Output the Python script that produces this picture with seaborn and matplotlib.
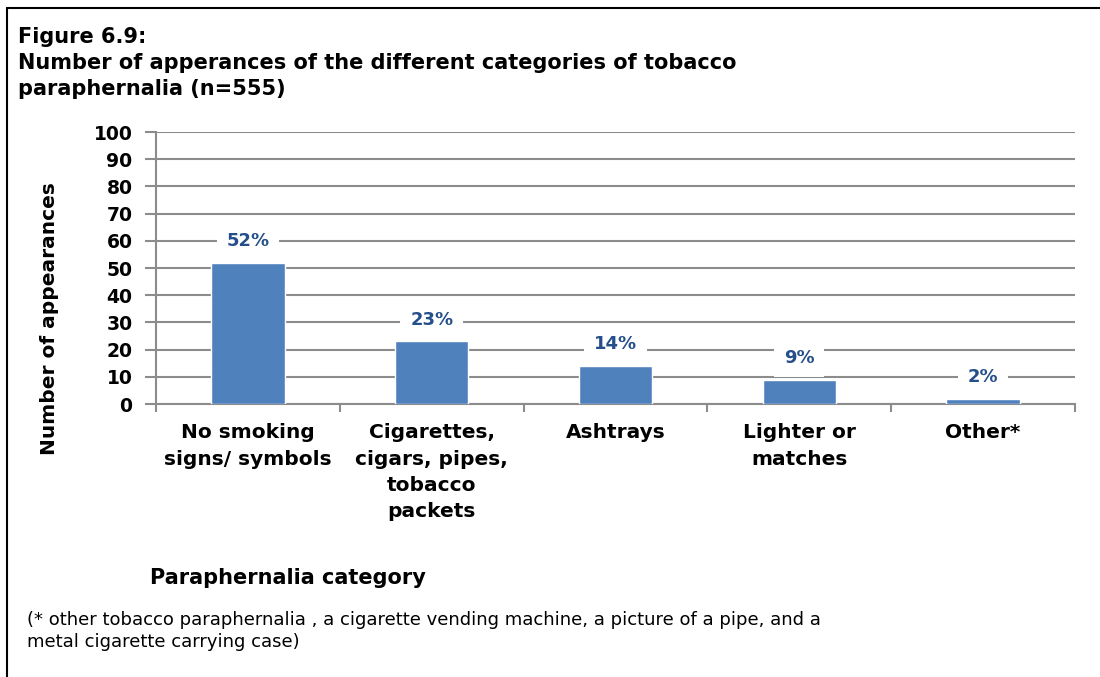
import matplotlib
matplotlib.use("Agg")
import matplotlib.pyplot as plt
import seaborn as sb
import pandas as pd

# data
categories = ["No smoking\nsigns/ symbols", "Cigarettes,\ncigars, pipes,\ntobacco\npackets",
              "Ashtrays", "Lighter or\nmatches", "Other*"]
appearances = [52, 23, 14, 9, 2]
bar_labels = ["52%", "23%", "14%", "9%", "2%"]
y_ticks = list(range(0, 101, 10))

bar_color = "#4F81BD"
label_color = "#254F8A"
grid_color = "#8C8C8C"

sb.set_style("white")
# the original uses a widely tracked Arial; DejaVu Sans gets the widths closer
plt.rcParams["font.family"] = ["DejaVu Sans"]
plt.rcParams["text.color"] = "black"
plt.rcParams["xtick.color"] = "black"
plt.rcParams["ytick.color"] = "black"

df = pd.DataFrame({"category": categories, "count": appearances})

fig = plt.figure(figsize=(11, 6.77), dpi=100)
ax = fig.add_axes([156 / 1100, 1 - 404 / 677, (1075 - 156) / 1100, (404 - 132) / 677])

sb.barplot(data=df, x="category", y="count", color=bar_color, width=0.4,
           saturation=1, ax=ax, zorder=3)

ax.set_xlim(-0.5, len(categories) - 0.5)
ax.set_ylim(0, 100)
ax.set_yticks(y_ticks)
ax.set_yticklabels([str(t) for t in y_ticks], fontsize=13.5, fontweight="bold")
ax.grid(axis="y", color=grid_color, linewidth=1.5, zorder=0)
ax.set_axisbelow(True)

# category labels at centres, tick marks at the boundaries
ax.set_xticks(range(len(categories)))
ax.set_xticklabels(categories, fontsize=14.5, fontweight="bold", linespacing=1.48, va="top")
ax.tick_params(axis="x", which="major", length=0, pad=14, labelcolor="black")
ax.set_xticks([i - 0.5 for i in range(len(categories) + 1)], minor=True)
ax.tick_params(axis="x", which="minor", length=6, width=1.5, color=grid_color, direction="out", bottom=True)
ax.tick_params(axis="y", length=8, width=1.5, color=grid_color, direction="out", left=True, pad=9,
               labelcolor="black")

for side in ["top", "right"]:
    ax.spines[side].set_visible(False)
for side in ["left", "bottom"]:
    ax.spines[side].set_color(grid_color)
    ax.spines[side].set_linewidth(1.5)

ax.set_xlabel("")
ax.set_ylabel("")

# value labels with white boxes over the gridlines
for i, (v, lab) in enumerate(zip(appearances, bar_labels)):
    ax.text(i, v + 8, lab, ha="center", va="center", fontsize=13, fontweight="bold",
            color=label_color, zorder=4,
            bbox=dict(facecolor="white", edgecolor="none", pad=7))

fig.text(50 / 1100, 1 - 319 / 677, "Number of appearances", rotation=90, ha="center",
         va="center", fontsize=14.5, fontweight="bold")

fig.text(18 / 1100, 1 - 27 / 677,
         "Figure 6.9:\nNumber of apperances of the different categories of tobacco\nparaphernalia (n=555)",
         ha="left", va="top", fontsize=15, fontweight="bold", linespacing=1.37)

fig.text(150 / 1100, 1 - 578 / 677, "Paraphernalia category", ha="left", va="center",
         fontsize=15, fontweight="bold")
fig.text(27 / 1100, 1 - 631 / 677,
         "(* other tobacco paraphernalia , a cigarette vending machine, a picture of a pipe, and a\nmetal cigarette carrying case)",
         ha="left", va="center", fontsize=13, linespacing=1.22)

# outer frame (left and top edges visible)
fig.add_artist(plt.Line2D([7 / 1100, 7 / 1100], [0, 1 - 8 / 677], color="black", linewidth=1.5,
                          transform=fig.transFigure))
fig.add_artist(plt.Line2D([7 / 1100, 1], [1 - 8 / 677, 1 - 8 / 677], color="black", linewidth=1.5,
                          transform=fig.transFigure))

fig.savefig("out.png", dpi=100)
